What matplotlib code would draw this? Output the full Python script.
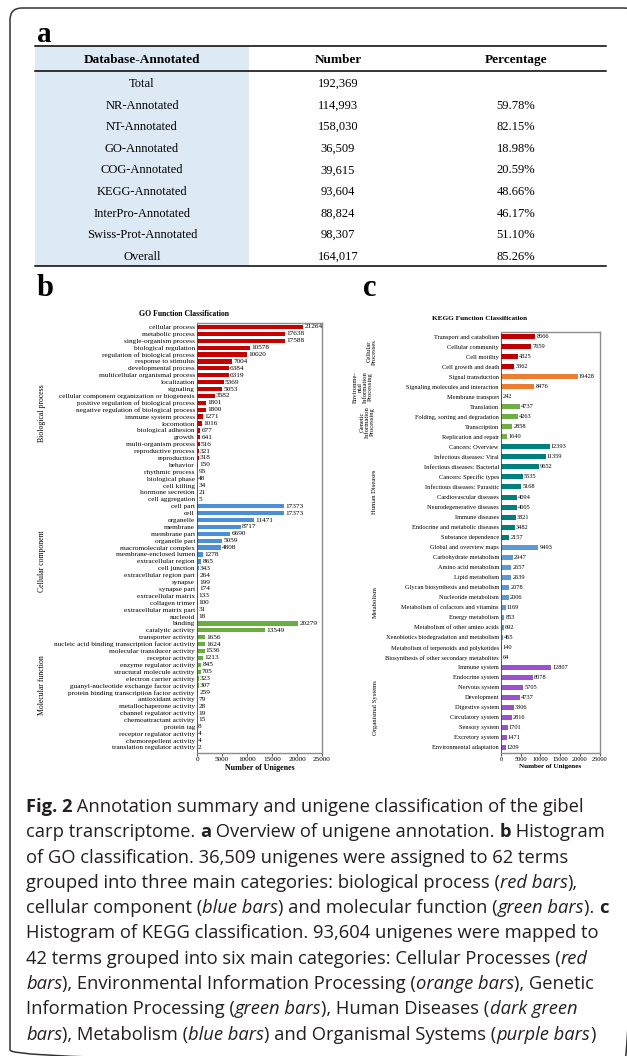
import matplotlib.pyplot as plt
import matplotlib.transforms as mtransforms
from matplotlib.patches import Rectangle, FancyBboxPatch
import numpy as np

plt.rcParams['font.family'] = 'serif'
plt.rcParams['font.serif'] = ['Liberation Serif', 'DejaVu Serif']

W, H = 627, 1056

# ---------------- table (panel a)
db_names = ["Total", "NR-Annotated", "NT-Annotated", "GO-Annotated", "COG-Annotated",
            "KEGG-Annotated", "InterPro-Annotated", "Swiss-Prot-Annotated", "Overall"]
db_numbers = [192369, 114993, 158030, 36509, 39615, 93604, 88824, 98307, 164017]
db_percent = [None, 59.78, 82.15, 18.98, 20.59, 48.66, 46.17, 51.10, 85.26]

# ---------------- GO classification (panel b)
go_bp_terms = ["cellular process", "metabolic process", "single-organism process",
               "biological regulation", "regulation of biological process", "response to stimulus",
               "developmental process", "multicellular organismal process", "localization",
               "signaling", "cellular component organization or biogenesis",
               "positive regulation of biological process", "negative regulation of biological process",
               "immune system process", "locomotion", "biological adhesion", "growth",
               "multi-organism process", "reproductive process", "reproduction", "behavior",
               "rhythmic process", "biological phase", "cell killing", "hormone secretion",
               "cell aggregation"]
go_bp_values = [21264, 17638, 17588, 10578, 10020, 7004, 6384, 6319, 5369, 5053, 3582, 1801,
                1800, 1271, 1016, 677, 641, 516, 321, 318, 150, 95, 48, 34, 21, 5]
go_cc_terms = ["cell part", "cell", "organelle", "membrane", "membrane part", "organelle part",
               "macromolecular complex", "membrane-enclosed lumen", "extracellular region",
               "cell junction", "extracellular region part", "synapse", "synapse part",
               "extracellular matrix", "collagen trimer", "extracellular matrix part", "nucleoid"]
go_cc_values = [17373, 17373, 11471, 8717, 6690, 5059, 4808, 1278, 865, 343, 264, 199, 174,
                133, 100, 31, 18]
go_mf_terms = ["binding", "catalytic activity", "transporter activity",
               "nucleic acid binding transcription factor activity", "molecular transducer activity",
               "receptor activity", "enzyme regulator activity", "structural molecule activity",
               "electron carrier activity", "guanyl-nucleotide exchange factor activity",
               "protein binding transcription factor activity", "antioxidant activity",
               "metallochaperone activity", "channel regulator activity", "chemoattractant activity",
               "protein tag", "receptor regulator activity", "chemorepellent activity",
               "translation regulator activity"]
go_mf_values = [20279, 13549, 1656, 1624, 1536, 1213, 845, 705, 323, 307, 259, 79, 28, 19, 15,
                8, 4, 4, 2]
go_groups = ["Biological process", "Cellular component", "Molecular function"]

# ---------------- KEGG classification (panel c)
kegg_cp_terms = ["Transport and catabolism", "Cellular community", "Cell motility",
                 "Cell growth and death"]
kegg_cp_values = [8666, 7659, 4325, 3362]
kegg_eip_terms = ["Signal transduction", "Signaling molecules and interaction", "Membrane transport"]
kegg_eip_values = [19428, 8476, 242]
kegg_gip_terms = ["Translation", "Folding, sorting and degradation", "Transcription",
                  "Replication and repair"]
kegg_gip_values = [4737, 4263, 2858, 1640]
kegg_hd_terms = ["Cancers: Overview", "Infectious diseases: Viral", "Infectious diseases: Bacterial",
                 "Cancers: Specific types", "Infectious diseases: Parasitic",
                 "Cardiovascular diseases", "Neurodegenerative diseases", "Immune diseases",
                 "Endocrine and metabolic diseases", "Substance dependence"]
kegg_hd_values = [12393, 11359, 9652, 5535, 5168, 4094, 4005, 3821, 3482, 2157]
kegg_met_terms = ["Global and overview maps", "Carbohydrate metabolism", "Amino acid metabolism",
                  "Lipid metabolism", "Glycan biosynthesis and metabolism", "Nucleotide metabolism",
                  "Metabolism of cofactors and vitamins", "Energy metabolism",
                  "Metabolism of other amino acids", "Xenobiotics biodegradation and metabolism",
                  "Metabolism of terpenoids and polyketides",
                  "Biosynthesis of other secondary metabolites"]
kegg_met_values = [9493, 2947, 2657, 2639, 2078, 2006, 1169, 853, 692, 465, 140, 64]
kegg_os_terms = ["Immune system", "Endocrine system", "Nervous system", "Development",
                 "Digestive system", "Circulatory system", "Sensory system", "Excretory system",
                 "Environmental adaptation"]
kegg_os_values = [12807, 8078, 5705, 4737, 3306, 2816, 1701, 1471, 1209]
kegg_groups = ["Cellular\nProcesses", "Environme-\nntal\nInformation\nProcessing",
               "Genetic\nInformation\nProcessing", "Human Diseases", "Metabolism",
               "Organismal Systems"]

go_colors = ["#c80000", "#4a8fd8", "#6aae40"]
kegg_colors = ["#c00000", "#ed7d31", "#70ad47", "#00807c", "#5b9bd5", "#9b51d0"]

fig = plt.figure(figsize=(W / 100, H / 100), dpi=100)
bg = fig.add_axes([0, 0, 1, 1])
bg.set_xlim(0, W)
bg.set_ylim(H, 0)
bg.axis('off')

# outer frame (right and bottom edges fall outside the picture)
bg.add_patch(FancyBboxPatch((10, 8), 626, 1054, boxstyle="round,pad=0,rounding_size=12",
                            fill=False, lw=1.1, ec='#333333'))

# ---------------- panel a: table
bg.text(37, 42, "a", fontsize=21, weight='bold', va='baseline')
bg.add_patch(Rectangle((35, 46), 214, 220, color='#dde9f5', lw=0))
for yy in (46, 71, 266):
    bg.plot([35, 606], [yy, yy], color='black', lw=1.1)
col_x = [142, 338, 516]
for x, lab in zip(col_x, ["Database-Annotated", "Number", "Percentage"]):
    bg.text(x, 60, lab, fontsize=9.5, weight='bold', ha='center', va='center')
for i, (name, num, pct) in enumerate(zip(db_names, db_numbers, db_percent)):
    y = 84 + i * 21.6
    bg.text(col_x[0], y, name, fontsize=9, ha='center', va='center')
    bg.text(col_x[1], y, f"{num:,}", fontsize=9, ha='center', va='center')
    if pct is not None:
        bg.text(col_x[2], y, f"{pct:.2f}%", fontsize=9, ha='center', va='center')

bg.text(37, 296, "b", fontsize=22, weight='bold', va='baseline')
bg.text(363, 296, "c", fontsize=22, weight='bold', va='baseline')


def hbar_panel(ax, groups, colors, height, fs):
    terms, values, cols, spans = [], [], [], []
    for (t, v), c in zip(groups, colors):
        spans.append((len(terms), len(terms) + len(t) - 1))
        terms += t
        values += v
        cols += [c] * len(t)
    y = np.arange(len(terms))
    ax.barh(y, values, height=height, color=cols)
    for yi, v in zip(y, values):
        ax.annotate(str(v), (v, yi), xytext=(0.8, 0), textcoords='offset points',
                    va='center', ha='left', fontsize=fs)
    ax.set_yticks(y)
    ax.set_yticklabels(terms, fontsize=fs)
    ax.set_xlim(0, 25000)
    ax.set_xticks(np.arange(0, 25001, 5000))
    ax.tick_params(axis='y', length=0, pad=1.5)
    ax.tick_params(axis='x', length=2, width=0.5, pad=1, labelsize=fs)
    for s in ax.spines.values():
        s.set_color('#8c8c8c')
        s.set_linewidth(1.0)
    ax.spines['left'].set_color('#404040')
    ax.spines['left'].set_linewidth(0.6)
    ax.set_xlabel("Number of Unigenes", fontsize=fs + 0.5, weight='bold', labelpad=1)
    return spans


# ---------------- panel b: GO
ax1 = fig.add_axes([197 / W, 1 - 753 / H, 125 / W, 430 / H])
spans = hbar_panel(ax1, [(go_bp_terms, go_bp_values), (go_cc_terms, go_cc_values),
                         (go_mf_terms, go_mf_values)], go_colors, 0.62, 5.2)
ax1.set_ylim(61.8, -0.58)
tr1 = mtransforms.blended_transform_factory(bg.transData, ax1.transData)
for (a, b), g in zip(spans, go_groups):
    ax1.text(42, (a + b) / 2, g, transform=tr1, rotation=90, ha='center', va='center',
             fontsize=5.6, clip_on=False)
bg.text(184, 314, "GO Function Classification", fontsize=5.6, weight='bold',
        ha='center', va='center')

# ---------------- panel c: KEGG
ax2 = fig.add_axes([501 / W, 1 - 753.3 / H, 98.5 / W, 421.6 / H])
spans = hbar_panel(ax2, [(kegg_cp_terms, kegg_cp_values), (kegg_eip_terms, kegg_eip_values),
                         (kegg_gip_terms, kegg_gip_values), (kegg_hd_terms, kegg_hd_values),
                         (kegg_met_terms, kegg_met_values), (kegg_os_terms, kegg_os_values)],
                   kegg_colors, 0.5, 4.6)
ax2.set_ylim(41.58, -0.5)
tr2 = mtransforms.blended_transform_factory(bg.transData, ax2.transData)
kegg_lab_x = [372, 363, 367, 375, 375, 375]
for (a, b), g, x in zip(spans, kegg_groups, kegg_lab_x):
    ax2.text(x, (a + b) / 2, g, transform=tr2, rotation=90, ha='center', va='center',
             multialignment='center', fontsize=4.8, clip_on=False, linespacing=1.0)
bg.text(480, 318, "KEGG Function Classification", fontsize=5.2, weight='bold',
        ha='center', va='center')

# ---------------- caption
caption_lines = [
    [("Fig. 2", "b"), (" Annotation summary and unigene classification of the gibel", "n")],
    [("carp transcriptome. ", "n"), ("a", "b"), (" Overview of unigene annotation. ", "n"),
     ("b", "b"), (" Histogram", "n")],
    [("of GO classification. 36,509 unigenes were assigned to 62 terms", "n")],
    [("grouped into three main categories: biological process (", "n"), ("red bars", "i"),
     ("),", "n")],
    [("cellular component (", "n"), ("blue bars", "i"), (") and molecular function (", "n"),
     ("green bars", "i"), ("). ", "n"), ("c", "b")],
    [("Histogram of KEGG classification. 93,604 unigenes were mapped to", "n")],
    [("42 terms grouped into six main categories: Cellular Processes (", "n"), ("red", "i")],
    [("bars", "i"), ("), Environmental Information Processing (", "n"), ("orange bars", "i"),
     ("), Genetic", "n")],
    [("Information Processing (", "n"), ("green bars", "i"), ("), Human Diseases (", "n"),
     ("dark green", "i")],
    [("bars", "i"), ("), Metabolism (", "n"), ("blue bars", "i"),
     (") and Organismal Systems (", "n"), ("purple bars", "i"), (")", "n")],
]
styles = {"n": {}, "b": {"weight": "bold"}, "i": {"style": "italic"}}
cap_kw = dict(family=['Open Sans', 'DejaVu Sans'], fontsize=13.2, color='#231f20', va='baseline')
renderer = fig.canvas.get_renderer()


def run_width(s, st):
    t1 = bg.text(0, 0, "|" + s + "|", **cap_kw, **styles[st])
    t2 = bg.text(0, 0, "||", **cap_kw, **styles[st])
    w = t1.get_window_extent(renderer).width - t2.get_window_extent(renderer).width
    t1.remove()
    t2.remove()
    return w


for li, runs in enumerate(caption_lines):
    x = 26
    y = 812 + li * 25.3
    for s, st in runs:
        bg.text(x, y, s, **cap_kw, **styles[st])
        x += run_width(s, st)

fig.savefig("out.png", dpi=100)
